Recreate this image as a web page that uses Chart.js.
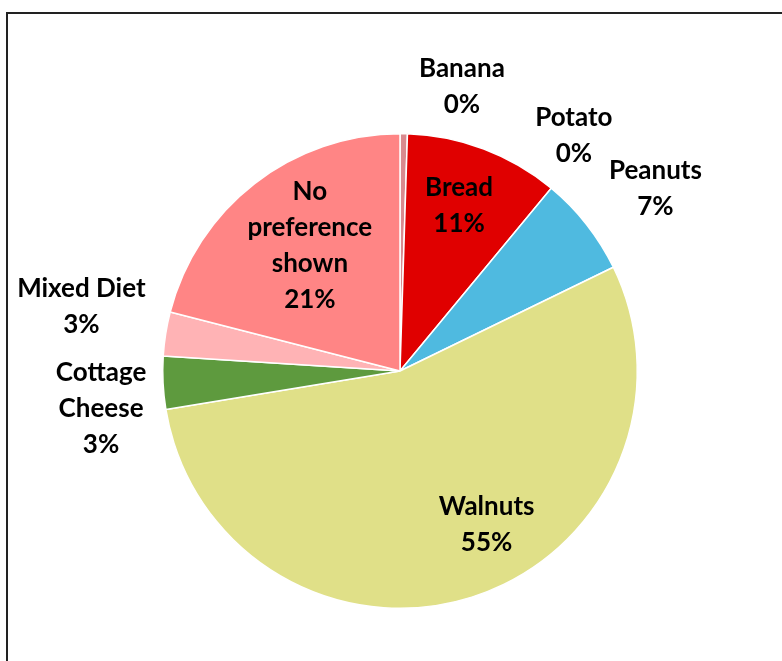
<!DOCTYPE html>
<html>
<head>
<meta charset="utf-8">
<script src="https://cdn.jsdelivr.net/npm/chart.js@4.4.1/dist/chart.umd.min.js"></script>
<style>
  html, body { margin: 0; padding: 0; background: #fff; }
  #wrap { width: 782px; height: 661px; }
</style>
</head>
<body>
<div id="wrap"><canvas id="pie_canvas" width="782" height="661"></canvas></div>
<script>
// data (percent of animals)
var foods = ['Banana', 'Bread', 'Potato', 'Peanuts', 'Walnuts', 'Cottage Cheese', 'Mixed Diet', 'No preference shown'];
var shares = [0.5, 10.5, 0, 6.8, 54.6, 3.6, 3.0, 21.0];
var shownPct = ['0%', '11%', '0%', '7%', '55%', '3%', '3%', '21%'];
var labelLines = [
    ['Banana'], ['Bread'], ['Potato'], ['Peanuts'], ['Walnuts'],
    ['Cottage', 'Cheese'], ['Mixed Diet'], ['No', 'preference', 'shown']
];

var colors = ['#d98a8f', '#e00000', '#c0504d', '#4fbae0', '#e0e088', '#5e9a3e', '#ffb3b5', '#ff8585'];

// label placement: nudge from the slice mid angle (deg) and distance as part of radius
var labelNudge = [11.4, -1.1, -3.2, 2.7, -11.7, -4.3, 2.4, 2.1];
var labelDist = [1.225, 0.742, 1.235, 1.322, 0.745, 1.27, 1.37, 0.651];

var labelFont = 'bold 26px Lato';
var lineGap = 36;

var sliceLabels = {
    id: 'sliceLabels',
    afterDatasetsDraw: function(chart) {
        var ctx = chart.ctx;
        var arcs = chart.getDatasetMeta(0).data;
        ctx.save();
        ctx.font = labelFont;
        ctx.fillStyle = '#000';
        ctx.textAlign = 'center';
        ctx.textBaseline = 'middle';
        arcs.forEach(function(arc, i) {
            var mid = (arc.startAngle + arc.endAngle) / 2 + labelNudge[i] * Math.PI / 180;
            var r = arc.outerRadius * labelDist[i];
            var x = arc.x + Math.cos(mid) * r;
            var y = arc.y + Math.sin(mid) * r;
            var lines = labelLines[i].concat([shownPct[i]]);
            var top = y - (lines.length - 1) * lineGap / 2;
            lines.forEach(function(t, k) {
                ctx.fillText(t, x, top + k * lineGap);
            });
        });
        ctx.restore();
    }
};

var frame = {
    id: 'frame',
    beforeDraw: function(chart) {
        var ctx = chart.ctx;
        ctx.save();
        ctx.strokeStyle = '#222';
        ctx.lineWidth = 2;
        ctx.strokeRect(7, 13, 900, 900);
        ctx.restore();
    }
};

var ctx = document.getElementById('pie_canvas').getContext('2d');
var pieChart = new Chart(ctx, {
    type: 'pie',
    data: {
        labels: foods,
        datasets: [{
            data: shares,
            backgroundColor: colors,
            borderColor: '#ffffff',
            borderWidth: 1.5,
            hoverOffset: 0
        }]
    },
    options: {
        responsive: false,
        animation: false,
        layout: { padding: { left: 162, right: 144, top: 133, bottom: 52 } },
        plugins: {
            legend: { display: false },
            tooltip: { enabled: false }
        }
    },
    plugins: [frame, sliceLabels]
});
</script>
</body>
</html>
